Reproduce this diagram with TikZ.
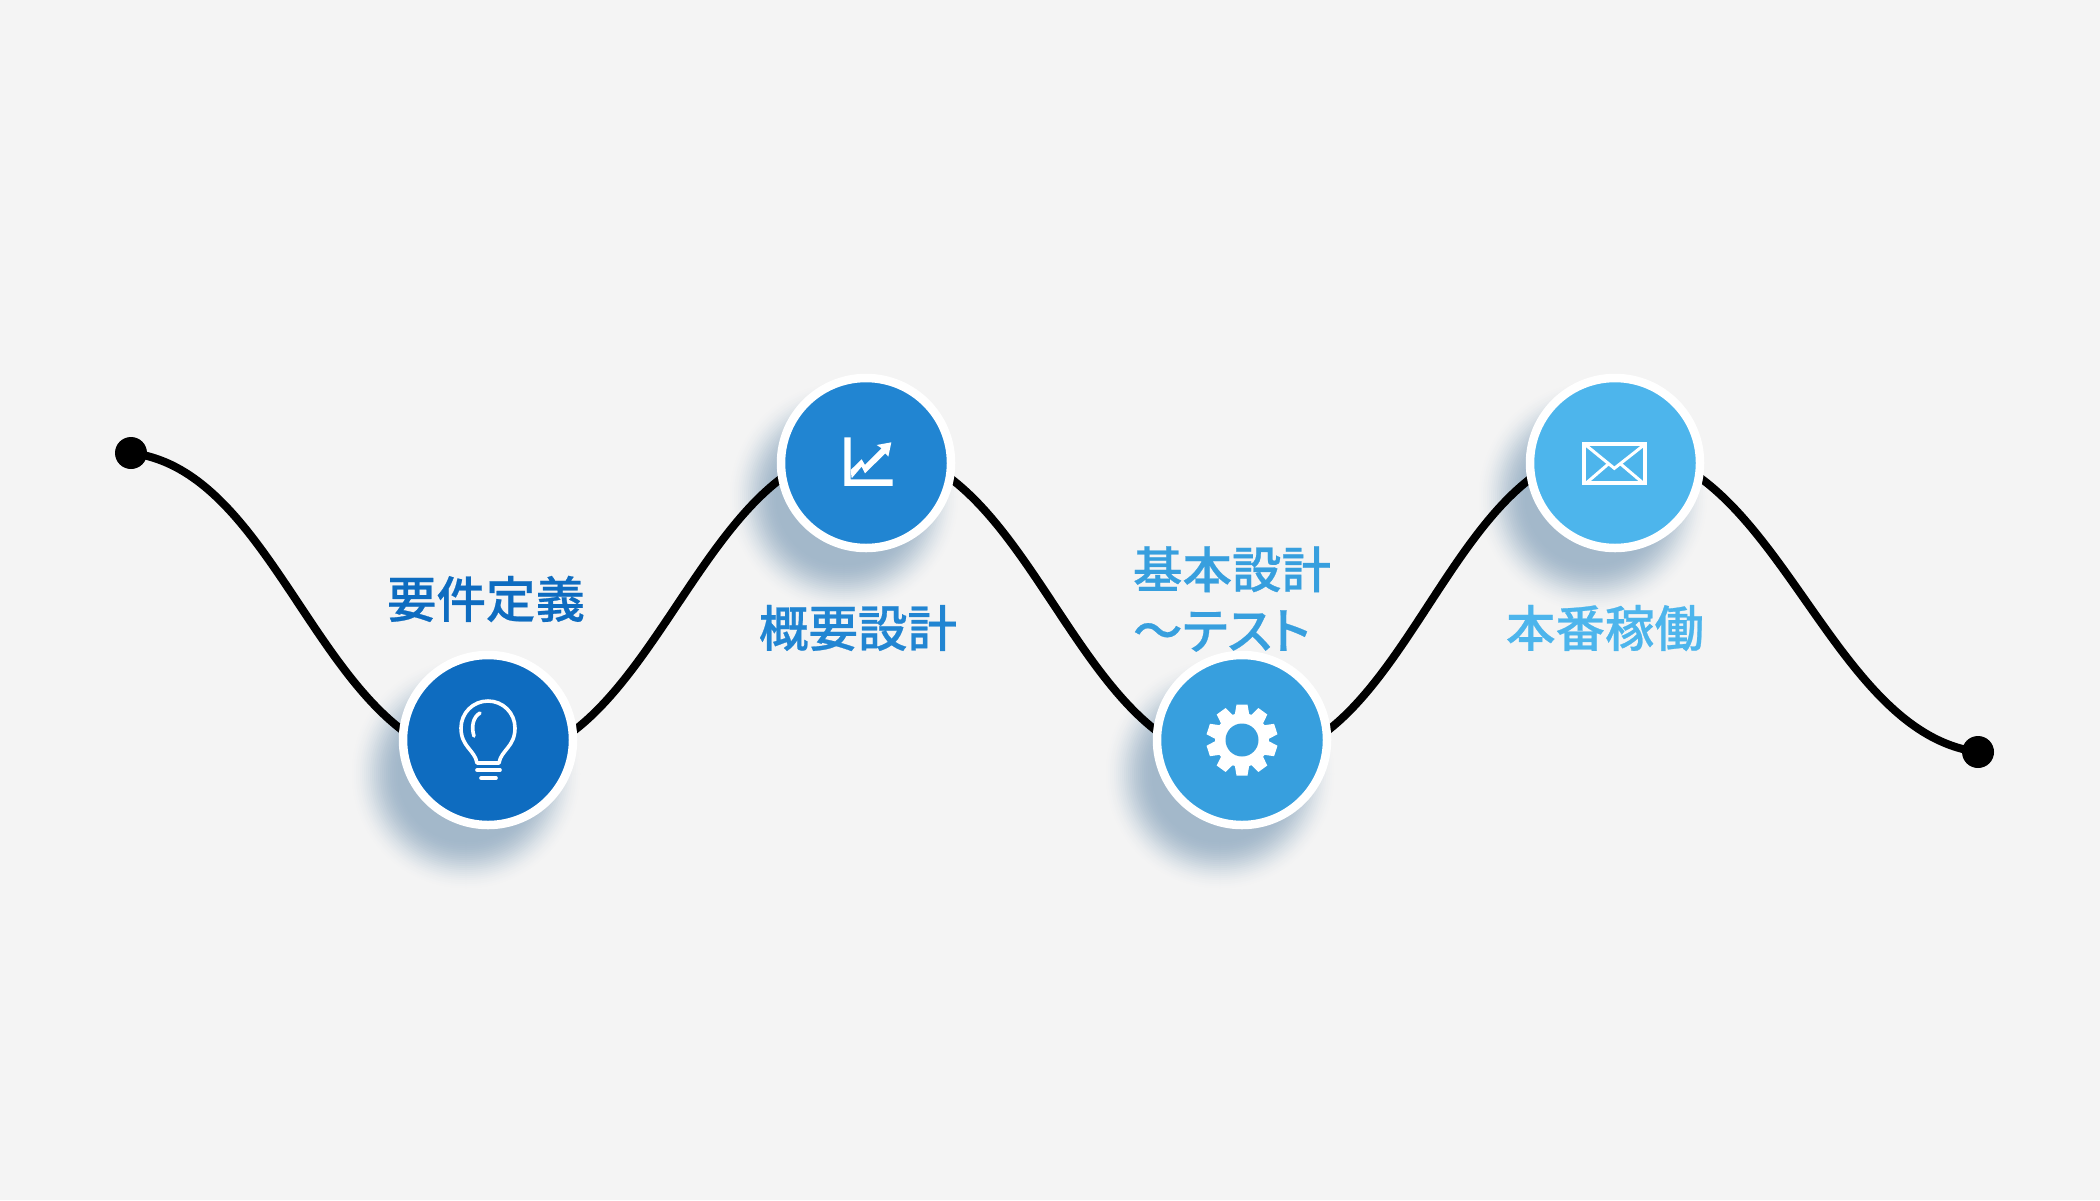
\documentclass[tikz,border=0pt]{standalone}
\usepackage{fontspec}
\newfontfamily\cjk[FakeBold=0.5]{Noto Sans CJK JP Medium}
\newfontfamily\cjkp[FakeBold=0.5,RawFeature=+palt]{Noto Sans CJK JP Medium}
\definecolor{bgc}{HTML}{F4F4F4}
\definecolor{shc}{HTML}{A3B8CA}
\definecolor{cA}{HTML}{0E6CC0}
\definecolor{cB}{HTML}{2185D2}
\definecolor{cC}{HTML}{379FDE}
\definecolor{cD}{HTML}{4DB5EC}
\newcommand{\softshadow}[2]{%
  \foreach \i in {0,...,26}{%
    \pgfmathsetmacro{\rr}{118-2*\i}%
    \pgfmathsetmacro{\tt}{100*(0.5-0.5*cos(180*\i/26))}%
    \fill[shc!\tt!bgc] (#1,#2) circle ({\rr pt});
  }}
\tikzset{
  stepcircle/.style={circle,draw=white,line width=8.5pt,minimum size=170pt,inner sep=0pt},
  enddot/.style={circle,fill=black,minimum size=32pt,inner sep=0pt},
  steplabel/.style={font=\cjk\fontsize{49.5pt}{61pt}\selectfont,inner sep=0pt},
  wave/.style={line width=8pt,draw=black},
  iconline/.style={draw=white,line width=3.6pt,line cap=round,line join=round}
}
\begin{document}
\begin{tikzpicture}[x=1pt,y=-1pt]
\useasboundingbox (0,0) rectangle (2100,1200);
\fill[bgc] (0,0) rectangle (2100,1200);
% shadows
\softshadow{466}{774}
\softshadow{844}{497}
\softshadow{1220}{774}
\softshadow{1593}{497}
% connector
\node[enddot] (s) at (131,453) {};
\node[enddot] (e) at (1978,752) {};
\coordinate (w1) at (488,762);
\coordinate (w2) at (866,448);
\coordinate (w3) at (1242,762);
\coordinate (w4) at (1615,448);
\draw[wave] (s.center) .. controls +(152,18) and +(-165,-4) .. (w1)
  .. controls +(168,0) and +(-168,0) .. (w2)
  .. controls +(168,0) and +(-168,0) .. (w3)
  .. controls +(168,0) and +(-168,0) .. (w4)
  .. controls +(161,0) and +(-152,-20) .. (e.center);
% circles
\node[stepcircle,fill=cA] (n1) at (488,740) {};
\node[stepcircle,fill=cB] (n2) at (866,463) {};
\node[stepcircle,fill=cC] (n3) at (1242,740) {};
\node[stepcircle,fill=cD] (n4) at (1615,463) {};
% labels
\node[steplabel,text=cA] (l1) at (486,599) {要件定義};
\node[steplabel,text=cB] (l2) at (858,628) {概要設計};
\node[steplabel,text=cC,align=left] (l3) at (1232,599) {基本設計\\〜{\cjkp テスト}};
\node[steplabel,text=cD] (l4) at (1605,628) {本番稼働};
% bulb
\draw[iconline] (477,763) .. controls (475,750) and (461,747) .. (461,728)
  .. controls (461,713) and (473,701) .. (488,701)
  .. controls (503,701) and (515,713) .. (515,728)
  .. controls (515,747) and (501,750) .. (499,763) -- cycle;
\draw[iconline] (480,713) .. controls (473,717) and (471,727) .. (474,736);
\draw[iconline] (477,770) -- (500,770);
\draw[iconline] (481,778) -- (496,778);
% chart
\begin{scope}[shift={(750,360)},x=0.3333pt,y=-0.3333pt]
\fill[white] (283,232) -- (302,232) -- (302,358) -- (428,358) -- (428,378) -- (283,378) -- cycle;
\fill[white] (302,330) -- (335,298) -- (345,315) -- (395,265) -- (380,255) -- (424,247) -- (415,290)
  -- (406,280) -- (345,340) -- (335,320) -- (305,355) -- cycle;
\end{scope}
% gear
\begin{scope}[shift={(1242,740)}]
\fill[white] (0,0) circle (27pt);
\foreach \k in {0,...,9}{
  \fill[white,rotate=36*\k] (-7.5,-24) -- (-5.5,-35.5) -- (5.5,-35.5) -- (7.5,-24) -- cycle;
}
\fill[cC] (0,0) circle (16.5pt);
\end{scope}
% envelope
\begin{scope}[shift={(1490,360)},x=0.3333pt,y=-0.3333pt]
\draw[white,line width=4pt] (283,251) rectangle (466,370);
\draw[white,line width=3pt] (287,255) -- (373,325) -- (462,255);
\draw[white,line width=3pt] (290,368) -- (355,312);
\draw[white,line width=3pt] (458,368) -- (392,312);
\end{scope}
\end{tikzpicture}
\end{document}
